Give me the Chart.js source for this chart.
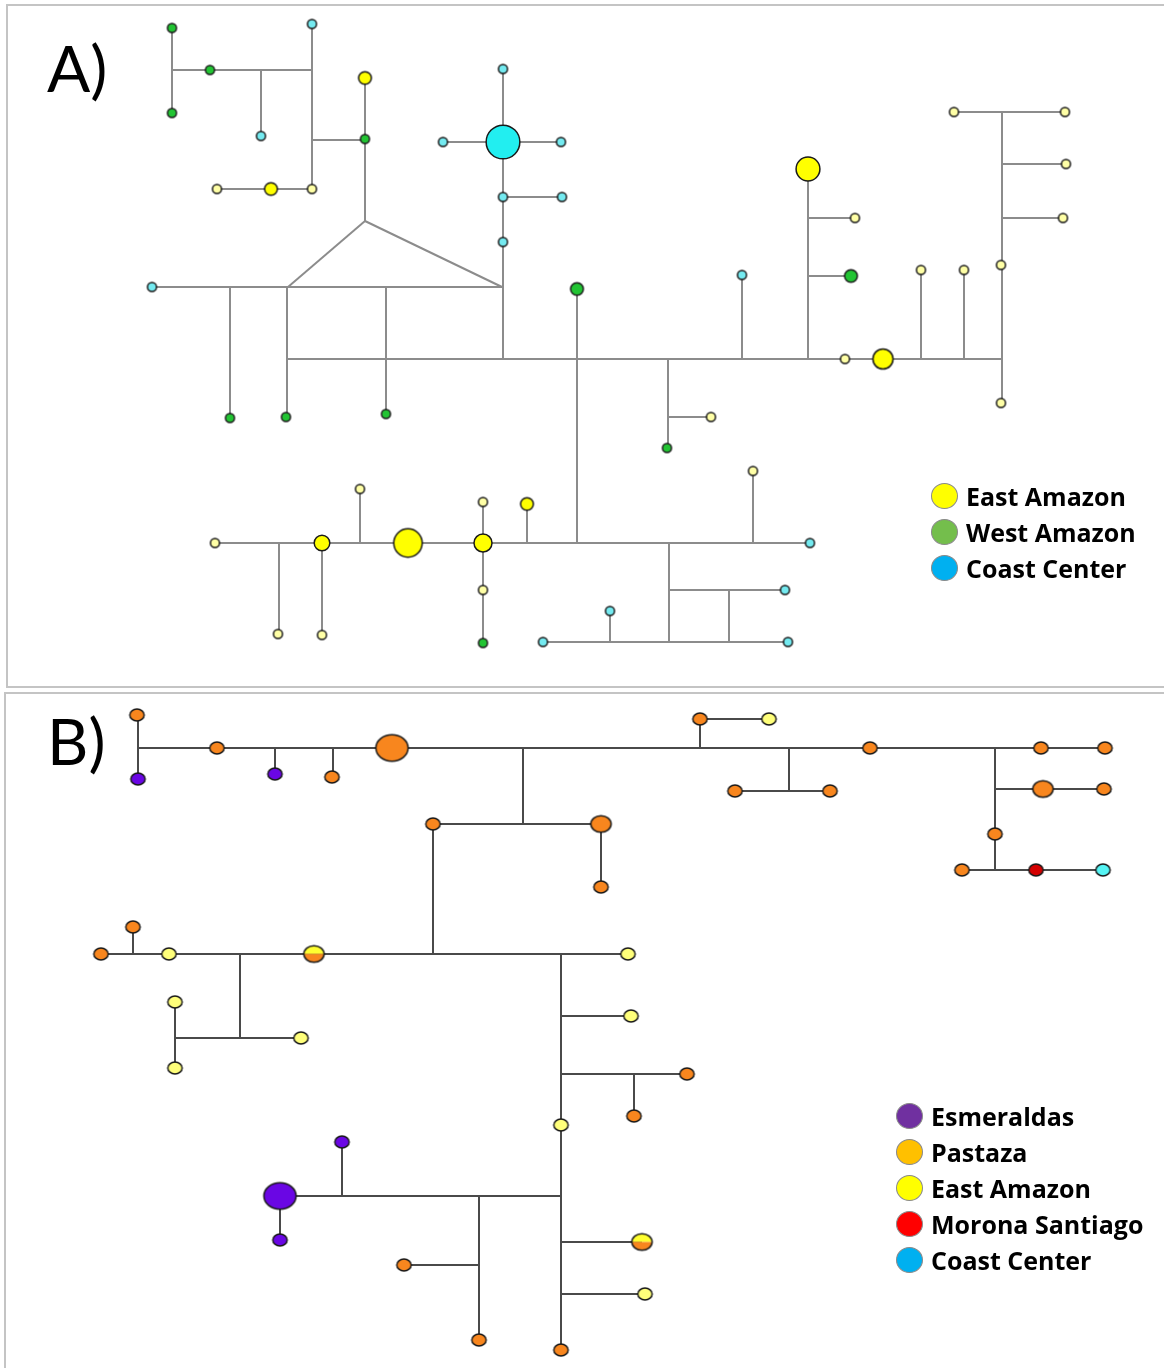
<!DOCTYPE html>
<html>
<head>
<meta charset="utf-8">
<script src="https://cdn.jsdelivr.net/npm/chart.js@4.4.1/dist/chart.umd.min.js"></script>
<style>
  body { margin: 0; background: #fff; }
  #wrap { position: relative; width: 1164px; height: 1368px; overflow: hidden; background: #fff; }
  .panel { position: absolute; box-sizing: border-box; border: 2px solid #c4c4c4; }
  #net { position: absolute; left: 0; top: 0; }
  .tag { position: absolute; font-family: Lato, "Open Sans", sans-serif; font-size: 64px; line-height: 1; color: #000; }
  .legend { position: absolute; font-family: "Open Sans", "Noto Sans", sans-serif; font-weight: 700; font-size: 25px; color: #000; }
  .legend .row { display: flex; align-items: center; height: 36px; }
  .legend .dot { width: 27px; height: 26px; border-radius: 50%; border: 1px solid #8a8a8a; box-sizing: border-box; margin-right: 8px; }
</style>
</head>
<body>
<div id="wrap">
  <div class="panel" style="left:6px;top:4px;width:1170px;height:684px"></div>
  <div class="panel" style="left:4px;top:692px;width:1172px;height:700px"></div>
  <canvas id="net" width="1164" height="1368"></canvas>
  <div class="tag" style="left:47px;top:36px">A)</div>
  <div class="tag" style="left:47px;top:709px">B)</div>
  <div class="legend" id="legA" style="left:931px;top:478px"></div>
  <div class="legend" id="legB" style="left:896px;top:1098px"></div>
</div>
<script>
// Panel A: haplotype nodes [x, y, region, frequency]
const aNodes = [
  [172, 28, 'W', 1], [210, 70, 'W', 1], [172, 113, 'W', 1], [312, 24, 'C', 1], [261, 136, 'C', 1],
  [365, 78, 'E', 2], [365, 139, 'W', 1], [217, 189, 'E', 1], [271, 189, 'E', 2], [312, 189, 'E', 1],
  [152, 287, 'C', 1], [230, 418, 'W', 1], [286, 417, 'W', 1], [386, 414, 'W', 1],
  [503, 69, 'C', 1], [503, 142, 'C', 14], [443, 142, 'C', 1], [561, 142, 'C', 1], [503, 197, 'C', 1],
  [562, 197, 'C', 1], [503, 242, 'C', 1], [577, 289, 'W', 2], [742, 275, 'C', 1],
  [808, 169, 'E', 7], [855, 218, 'E', 1], [851, 276, 'W', 2], [845, 359, 'E', 1], [883, 359, 'E', 5],
  [921, 270, 'E', 1], [964, 270, 'E', 1], [1001, 265, 'E', 1], [1001, 403, 'E', 1], [954, 112, 'E', 1],
  [1065, 112, 'E', 1], [1066, 164, 'E', 1], [1063, 218, 'E', 1],
  [667, 448, 'W', 1], [711, 417, 'E', 1], [753, 471, 'E', 1], [810, 543, 'C', 1], [785, 590, 'C', 1],
  [543, 642, 'C', 1], [788, 642, 'C', 1], [610, 611, 'C', 1], [527, 504, 'E', 2],
  [215, 543, 'E', 1], [278, 634, 'E', 1], [322, 543, 'E', 3], [322, 635, 'E', 1], [360, 489, 'E', 1],
  [408, 543, 'E', 10], [483, 543, 'E', 4], [483, 502, 'E', 1], [483, 590, 'E', 1], [483, 643, 'W', 1]
];

// Panel A: links [x1, y1, x2, y2]
const aEdges = [
  [172, 28, 172, 113], [172, 70, 312, 70], [261, 70, 261, 136], [312, 24, 312, 189],
  [312, 140, 365, 140], [217, 189, 312, 189], [365, 78, 365, 221], [365, 221, 288, 287],
  [365, 221, 502, 287], [152, 287, 502, 287], [230, 287, 230, 418], [287, 287, 287, 417],
  [386, 287, 386, 414], [503, 69, 503, 359], [443, 142, 561, 142], [503, 197, 562, 197],
  [286, 359, 1002, 359], [577, 289, 577, 543], [742, 275, 742, 359], [808, 169, 808, 359],
  [808, 218, 855, 218], [808, 276, 851, 276], [921, 270, 921, 359], [964, 270, 964, 359],
  [1002, 112, 1002, 403], [954, 112, 1065, 112], [1002, 164, 1066, 164], [1002, 218, 1063, 218],
  [668, 359, 668, 448], [668, 417, 711, 417], [215, 543, 810, 543], [753, 471, 753, 543],
  [669, 543, 669, 642], [669, 590, 785, 590], [729, 590, 729, 642], [543, 642, 788, 642],
  [610, 611, 610, 642], [527, 504, 527, 543], [279, 543, 279, 634], [322, 543, 322, 635],
  [360, 489, 360, 543], [483, 502, 483, 643]
];

// Panel B: haplotype nodes [x, y, region, frequency]
const bNodes = [
  [137, 715, 'P', 1], [138, 779, 'S', 1], [217, 748, 'P', 1], [275, 774, 'S', 1], [332, 777, 'P', 1],
  [392, 748, 'P', 5], [433, 824, 'P', 1], [601, 824, 'P', 2], [601, 887, 'P', 1], [700, 719, 'P', 1],
  [769, 719, 'E', 1], [735, 791, 'P', 1], [830, 791, 'P', 1], [870, 748, 'P', 1], [1041, 748, 'P', 1],
  [1105, 748, 'P', 1], [1043, 789, 'P', 2], [1104, 789, 'P', 1], [995, 834, 'P', 1], [962, 870, 'P', 1],
  [1036, 870, 'M', 1], [1103, 870, 'C', 1],
  [101, 954, 'P', 1], [133, 927, 'P', 1], [169, 954, 'E', 1], [314, 954, 'EP', 2], [628, 954, 'E', 1],
  [175, 1002, 'E', 1], [175, 1068, 'E', 1], [301, 1038, 'E', 1],
  [631, 1016, 'E', 1], [687, 1074, 'P', 1], [634, 1116, 'P', 1], [561, 1125, 'E', 1], [342, 1142, 'S', 1],
  [280, 1196, 'S', 5], [280, 1240, 'S', 1], [404, 1265, 'P', 1], [479, 1340, 'P', 1], [642, 1242, 'EP', 2],
  [645, 1294, 'E', 1], [561, 1350, 'P', 1]
];

// Panel B: links [x1, y1, x2, y2]
const bEdges = [
  [138, 715, 138, 779], [138, 748, 1105, 748], [275, 748, 275, 774], [333, 748, 333, 777],
  [523, 748, 523, 824], [433, 824, 601, 824], [601, 824, 601, 887], [433, 824, 433, 954],
  [700, 719, 700, 748], [700, 719, 769, 719], [789, 748, 789, 791], [735, 791, 830, 791],
  [995, 748, 995, 870], [995, 789, 1104, 789], [962, 870, 1103, 870], [101, 954, 629, 954],
  [133, 927, 133, 954], [240, 954, 240, 1038], [175, 1038, 301, 1038], [175, 1002, 175, 1068],
  [561, 954, 561, 1350], [561, 1016, 631, 1016], [561, 1074, 687, 1074], [634, 1074, 634, 1116],
  [280, 1196, 561, 1196], [342, 1142, 342, 1196], [280, 1196, 280, 1240], [479, 1196, 479, 1340],
  [404, 1265, 479, 1265], [561, 1242, 642, 1242], [561, 1294, 645, 1294]
];

const legendA = ['East Amazon', 'West Amazon', 'Coast Center'];
const legendAColors = ['#ffff00', '#74be4c', '#00b0f0'];
const legendB = ['Esmeraldas', 'Pastaza', 'East Amazon', 'Morona Santiago', 'Coast Center'];
const legendBColors = ['#7030a0', '#ffc000', '#ffff00', '#ff0000', '#00b0f0'];

// node fills
const fillA = { E: '#ffff00', W: '#22c433', C: '#22eef0' };
const fillASmall = { E: '#ffffa6', W: '#22c433', C: '#74eaf0' };
const fillB = { P: '#f8861e', S: '#6a06e4', E: '#ffff7a', M: '#d40000', C: '#55f4f4' };

function nodeImage(fills, rx, ry) {
  const c = document.createElement('canvas');
  c.width = Math.ceil(rx * 2 + 4);
  c.height = Math.ceil(ry * 2 + 4);
  const g = c.getContext('2d');
  const cx = c.width / 2, cy = c.height / 2;
  g.beginPath();
  g.ellipse(cx, cy, rx, ry, 0, 0, Math.PI * 2);
  if (fills.length === 1) {
    g.fillStyle = fills[0];
    g.fill();
  } else {
    g.save();
    g.clip();
    g.fillStyle = fills[0];
    g.fillRect(0, 0, c.width, cy);
    g.fillStyle = fills[1];
    g.fillRect(0, cy, c.width, c.height);
    g.restore();
  }
  g.lineWidth = 1.5;
  g.strokeStyle = '#1a1a1a';
  g.stroke();
  return c;
}

function styleA(n) {
  const r = 4.5 * Math.sqrt(n[3]);
  const fill = n[3] > 1 ? fillA[n[2]] : fillASmall[n[2]];
  return nodeImage([fill], r, r);
}

function styleB(n) {
  const rx = 7.2 * Math.sqrt(n[3]);
  const ry = rx * 0.82;
  const fills = n[2] === 'EP' ? ['#ffff30', fillB.P] : [fillB[n[2]]];
  return nodeImage(fills, rx, ry);
}

function edgeSets(edges, color) {
  return edges.map(e => ({
    data: [{ x: e[0], y: e[1] }, { x: e[2], y: e[3] }],
    showLine: true,
    borderColor: color,
    borderWidth: 2,
    pointRadius: 0,
    order: 2
  }));
}

function nodeSet(nodes, styler) {
  return {
    data: nodes.map(n => ({ x: n[0], y: n[1] })),
    pointStyle: nodes.map(styler),
    pointRadius: 5,
    order: 1
  };
}

const datasets = []
  .concat(edgeSets(aEdges, '#8c8c8c'))
  .concat(edgeSets(bEdges, '#4a4a4a'))
  .concat([nodeSet(aNodes, styleA), nodeSet(bNodes, styleB)]);

new Chart(document.getElementById('net').getContext('2d'), {
  type: 'scatter',
  data: { datasets: datasets },
  options: {
    responsive: false,
    animation: false,
    layout: { padding: 0, autoPadding: false },
    plugins: { legend: { display: false }, tooltip: { enabled: false } },
    scales: {
      x: { type: 'linear', min: 0, max: 1164, display: false },
      y: { type: 'linear', min: 0, max: 1368, reverse: true, display: false }
    }
  }
});

// legends
function buildLegend(id, labels, colors) {
  const box = document.getElementById(id);
  labels.forEach((label, i) => {
    const row = document.createElement('div');
    row.className = 'row';
    row.innerHTML = `<span class="dot" style="background:${colors[i]}"></span><span>${label}</span>`;
    box.appendChild(row);
  });
}
buildLegend('legA', legendA, legendAColors);
buildLegend('legB', legendB, legendBColors);
</script>
</body>
</html>
